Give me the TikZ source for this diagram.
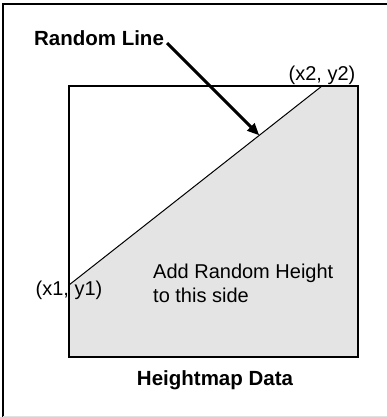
\documentclass[tikz,border=0pt]{standalone}
\usepackage{fontspec}
\setmainfont{Liberation Sans}
\usetikzlibrary{arrows.meta,calc}
\definecolor{lightfill}{RGB}{228,228,228}
\definecolor{faint}{RGB}{225,225,225}
\begin{document}
\begin{tikzpicture}[x=1pt,y=-1pt,
  lbl/.style={inner sep=0pt,font=\fontsize{20}{24}\selectfont},
  blbl/.style={inner sep=0pt,font=\fontsize{20.5}{24}\selectfont\bfseries},
  frame/.style={line width=2.6pt,line cap=rect}]
\useasboundingbox (0,0) rectangle (387,417);
% outer frame (top and left), faint bottom
\draw[frame] (387,4) -- (3,4) -- (3,417);
\draw[faint,line width=0.8pt] (3,416) -- (387,416);
% corners of the data square
\coordinate (tl) at (69,86);
\coordinate (br) at (358,357);
\coordinate (p1) at (69,285);
\coordinate (p2) at (322,86);
% shaded side
\fill[lightfill] (p1) -- (p2) -- (br|-tl) -- (br) -- (tl|-br) -- cycle;
\draw[line width=1.6pt] (tl) rectangle (br);
\draw[line width=1pt] (p1) -- (p2);
% labels
\node[blbl] (rl) at (99,38) {Random Line};
\node[lbl] (x2) at (322,75) {(x2, y2)};
\node[lbl] (x1) at (69,290) {(x1, y1)};
\node[lbl,align=left,anchor=north west] (add) at (153,264) {Add Random Height\\to this side};
\node[blbl] (hm) at (215,380) {Heightmap Data};
% arrow
\coordinate (as) at (167,43);
\coordinate (tip) at ($(p1)!0.752!(p2)$);
\draw[line width=3pt,-{Triangle[length=12pt,width=10pt]}] (as) -- (tip);
\end{tikzpicture}
\end{document}
